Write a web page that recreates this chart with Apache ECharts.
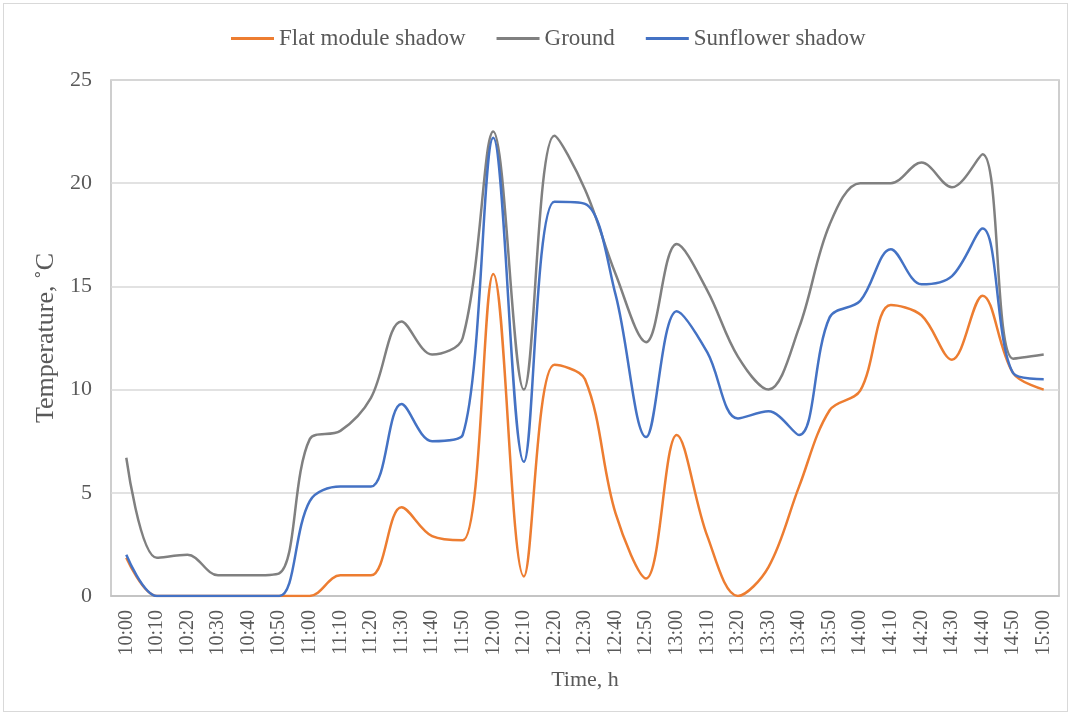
<!DOCTYPE html>
<html>
<head>
<meta charset="utf-8">
<script src="https://cdn.jsdelivr.net/npm/echarts@6/dist/echarts.min.js"></script>
<style>
html,body{margin:0;padding:0;background:#fff;}
#frame{position:absolute;left:3px;top:3px;width:1065px;height:709px;border:1px solid #D9D9D9;box-sizing:border-box;}
#chart{position:absolute;left:0;top:0;width:1073px;height:717px;}
</style>
</head>
<body>
<div id="frame"></div>
<div id="chart"></div>
<script>
const categories = ["10:00","10:10","10:20","10:30","10:40","10:50","11:00","11:10","11:20","11:30","11:40","11:50","12:00","12:10","12:20","12:30","12:40","12:50","13:00","13:10","13:20","13:30","13:40","13:50","14:00","14:10","14:20","14:30","14:40","14:50","15:00"];
const flatModuleShadow = [1.85,0,0,0,0,0,0,1.0,1.0,4.3,2.9,2.7,15.6,0.95,11.2,10.5,4.0,0.85,7.8,2.9,0,1.4,5.3,9.0,9.95,14.1,13.6,11.45,14.55,10.8,10.0];
const ground = [6.7,1.85,2.0,1.0,1.0,1.1,7.6,8.0,9.6,13.3,11.7,12.5,22.5,10.0,22.3,19.7,15.6,12.3,17.05,14.8,11.6,10.0,13.0,18.0,20.0,20.0,21.0,19.8,21.4,11.5,11.7];
const sunflowerShadow = [2.0,0,0,0,0,0,4.6,5.3,5.3,9.3,7.5,7.8,22.2,6.5,19.1,19.0,14.6,7.7,13.8,11.8,8.6,8.95,7.8,13.5,14.3,16.8,15.1,15.5,17.8,10.8,10.5];
const yTicks = [0,5,10,15,20,25];

const font = "'Liberation Serif','Times New Roman',serif";
const chart = echarts.init(document.getElementById('chart'));
function mk(name, data, color){
  return {name, type:'line', data, smooth:0.35, symbol:'none',
    lineStyle:{color, width:2.5}, itemStyle:{color}};
}
chart.setOption({
  animation:false,
  legend:{top:22, left:226, itemWidth:43, itemHeight:3, itemGap:31,
    icon:'rect',
    textStyle:{fontFamily:font, fontSize:23, color:'#595959'},
    data:['Flat module shadow','Ground','Sunflower shadow']},
  grid:{left:111, right:14, top:80, bottom:121, show:true, borderColor:'#BFBFBF', borderWidth:1.5},
  xAxis:{type:'category', data:categories, boundaryGap:true,
    name:'Time, h', nameLocation:'middle', nameGap:73,
    nameTextStyle:{fontFamily:font, fontSize:22, color:'#595959'},
    axisLine:{lineStyle:{color:'#BFBFBF', width:1.5}}, axisTick:{show:false},
    axisLabel:{rotate:90, interval:0, fontFamily:font, fontSize:20, color:'#595959', margin:14}},
  yAxis:{type:'value', min:yTicks[0], max:yTicks[yTicks.length-1], interval:5,
    name:'Temperature, ˚C', nameLocation:'middle', nameGap:43,
    nameTextStyle:{fontFamily:font, fontSize:26, color:'#595959'},
    axisLine:{show:false}, axisTick:{show:false},
    axisLabel:{fontFamily:font, fontSize:22, color:'#595959', margin:19},
    splitLine:{lineStyle:{color:'#D9D9D9', width:1.5}}},
  series:[
    mk('Flat module shadow', flatModuleShadow, '#ED7D31'),
    mk('Ground', ground, '#808080'),
    mk('Sunflower shadow', sunflowerShadow, '#4472C4')
  ]
});
</script>
</body>
</html>
